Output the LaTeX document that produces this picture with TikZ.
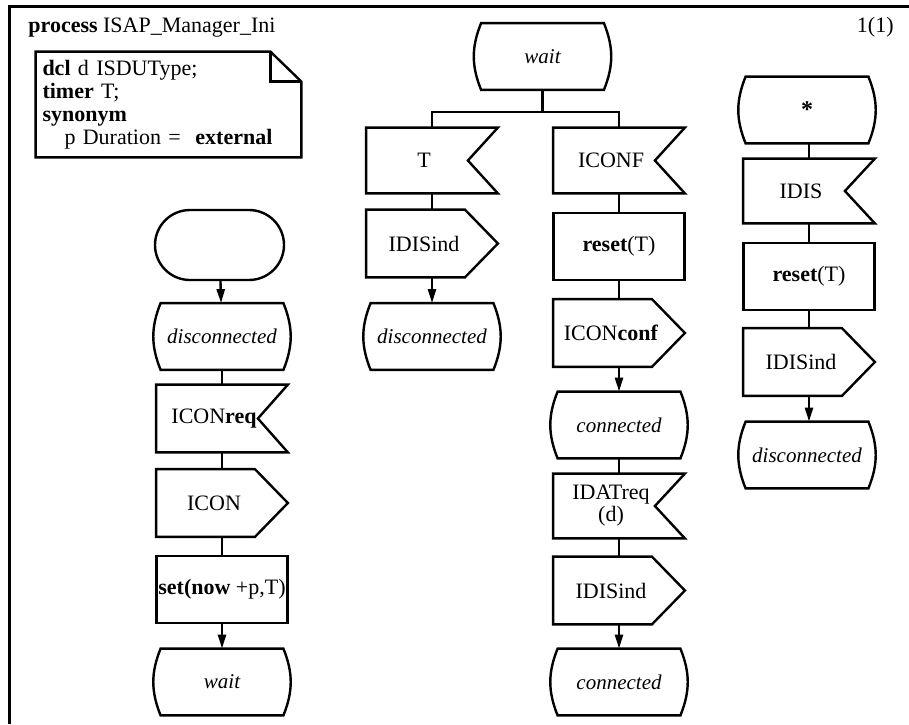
\documentclass[tikz,border=0pt]{standalone}
\usepackage{fontspec}
\setmainfont{Liberation Serif}
\usetikzlibrary{arrows.meta}

\tikzset{
	sdlline/.style = {line width = 1.2pt, line join = miter},
	sdlbox/.style = {minimum width = 65.5pt, minimum height = 33.5pt, inner sep = 1pt,
		font = \fontsize{11}{12}\selectfont},
	task/.style = {sdlbox, draw, sdlline},
	start/.style = {sdlbox, draw, sdlline, minimum width = 64.5pt, minimum height = 35pt, rounded corners = 17.5pt},
	input/.style = {sdlbox, execute at end node = \hspace*{8pt},
		append after command = {\pgfextra{\edef\sdlnode{\tikzlastnode}
		\draw [sdlline] (\sdlnode.north west) -- (\sdlnode.north east) -- ([xshift = -15pt] \sdlnode.east)
			-- (\sdlnode.south east) -- (\sdlnode.south west) -- cycle;}}},
	output/.style = {sdlbox, execute at end node = \hspace*{8pt},
		append after command = {\pgfextra{\edef\sdlnode{\tikzlastnode}
		\draw [sdlline] (\sdlnode.north west) -- ([xshift = -16.5pt] \sdlnode.north east) -- (\sdlnode.east)
			-- ([xshift = -16.5pt] \sdlnode.south east) -- (\sdlnode.south west) -- cycle;}}},
	state/.style = {sdlbox, minimum width = 61pt, minimum height = 33pt, font = \fontsize{10.5}{12}\selectfont\itshape,
		append after command = {\pgfextra{\edef\sdlnode{\tikzlastnode}
		\draw [sdlline] (\sdlnode.north west) -- (\sdlnode.north east) to [bend left = 22] (\sdlnode.south east)
			-- (\sdlnode.south west) to [bend left = 22] (\sdlnode.north west) -- cycle;}}},
	note/.style = {minimum width = 132.5pt, minimum height = 52.5pt, inner sep = 3pt, text width = 126pt,
		align = left, font = \fontsize{11}{11.5}\selectfont,
		append after command = {\pgfextra{\edef\sdlnode{\tikzlastnode}
		\draw [sdlline] (\sdlnode.north west) -- ([xshift = -15.5pt] \sdlnode.north east) -- ([yshift = -15pt] \sdlnode.north east)
			-- (\sdlnode.south east) -- (\sdlnode.south west) -- cycle;
		\draw [sdlline] ([xshift = -15.5pt] \sdlnode.north east) |- ([yshift = -15pt] \sdlnode.north east);}}},
	flow/.style = {sdlline, ->}
}

\begin{document}
\begin{tikzpicture}[x = 0.5pt, y = -0.5pt, > = {Triangle[length = 7pt, width = 4pt]}]

	\useasboundingbox (0, 0) rectangle (909, 724);

	% Frame + header
	
	\draw [line width = 1.5pt] (9.5, 724) -- (9.5, 6.5) -- (909, 6.5);
	\node [anchor = base west, font = \fontsize{11}{12}\selectfont, inner sep = 0] (title) at (28, 32) {\textbf{process} ISAP\_Manager\_Ini};
	\node [anchor = base east, font = \fontsize{11}{12}\selectfont, inner sep = 0] (page) at (894, 32) {1(1)};
	
	\node [note] (decl) at (168.5, 104.5) {\textbf{dcl} d ISDUType;\\ \textbf{timer} T;\\ \textbf{synonym}\\ \quad p Duration =\ \ \textbf{external}};
	
	% Start transition
	
	\node [start] (start) at (219.5, 245) {};
	\node [state] (dis1) at (222, 336.5) {disconnected};
	\node [input] (iconreq) at (222, 418.5) {ICON\textbf{req}};
	\node [output] (icon) at (222, 503) {ICON};
	\node [task] (settimer) at (222, 589.5) {\textbf{set(now} +p,T)};
	\node [state] (wait2) at (222, 682) {wait};
	
	\draw [flow] (start) -- (dis1);
	\draw [sdlline] (dis1) -- (iconreq);
	\draw [sdlline] (iconreq) -- (icon);
	\draw [sdlline] (icon) -- (settimer);
	\draw [flow] (settimer) -- (wait2);
	
	% State wait
	
	\node [state] (wait1) at (542.5, 56.5) {wait};
	\coordinate (fork) at (542.5, 112);
	
	\node [input, minimum height = 32.5pt] (timeout) at (432, 160.5) {T};
	\node [output] (idisind1) at (432, 243.5) {IDISind};
	\node [state] (dis2) at (432, 336.5) {disconnected};
	
	\node [input, minimum height = 32.5pt] (iconf) at (619, 160.5) {ICONF};
	\node [task] (reset1) at (619, 246.5) {\textbf{reset}(T)};
	\node [output] (iconconf) at (619, 333) {ICON\textbf{conf}};
	\node [state] (conn1) at (619, 425) {connected};
	\node [input, minimum height = 32pt] (idatreq) at (619, 506) {\begin{tabular}{@{}c@{}}IDATreq\\[-1pt](d)\end{tabular}};
	\node [output] (idisind2) at (619, 590.5) {IDISind};
	\node [state] (conn2) at (619, 682) {connected};
	
	\draw [sdlline] (wait1) -- (fork);
	\draw [sdlline] (timeout.north) |- (fork) -| (iconf.north);
	\draw [sdlline] (timeout) -- (idisind1);
	\draw [flow] (idisind1) -- (dis2);
	\draw [sdlline] (iconf) -- (reset1);
	\draw [sdlline] (reset1) -- (iconconf);
	\draw [flow] (iconconf) -- (conn1);
	\draw [sdlline] (conn1) -- (idatreq);
	\draw [sdlline] (idatreq) -- (idisind2);
	\draw [flow] (idisind2) -- (conn2);
	
	% Any state
	
	\node [state, font = \fontsize{12}{12}\selectfont\bfseries] (anystate) at (807, 110) {\raisebox{-2.5pt}{*}};
	\node [input, minimum height = 32pt] (idis) at (809, 191) {IDIS};
	\node [task] (reset2) at (809, 276.5) {\textbf{reset}(T)};
	\node [output] (idisind3) at (809, 362) {IDISind};
	\node [state] (dis3) at (807, 455) {disconnected};
	
	\draw [sdlline] (anystate.south -| idis) -- (idis);
	\draw [sdlline] (idis) -- (reset2);
	\draw [sdlline] (reset2) -- (idisind3);
	\draw [flow] (idisind3) -- (dis3.north -| idisind3);

\end{tikzpicture}
\end{document}
